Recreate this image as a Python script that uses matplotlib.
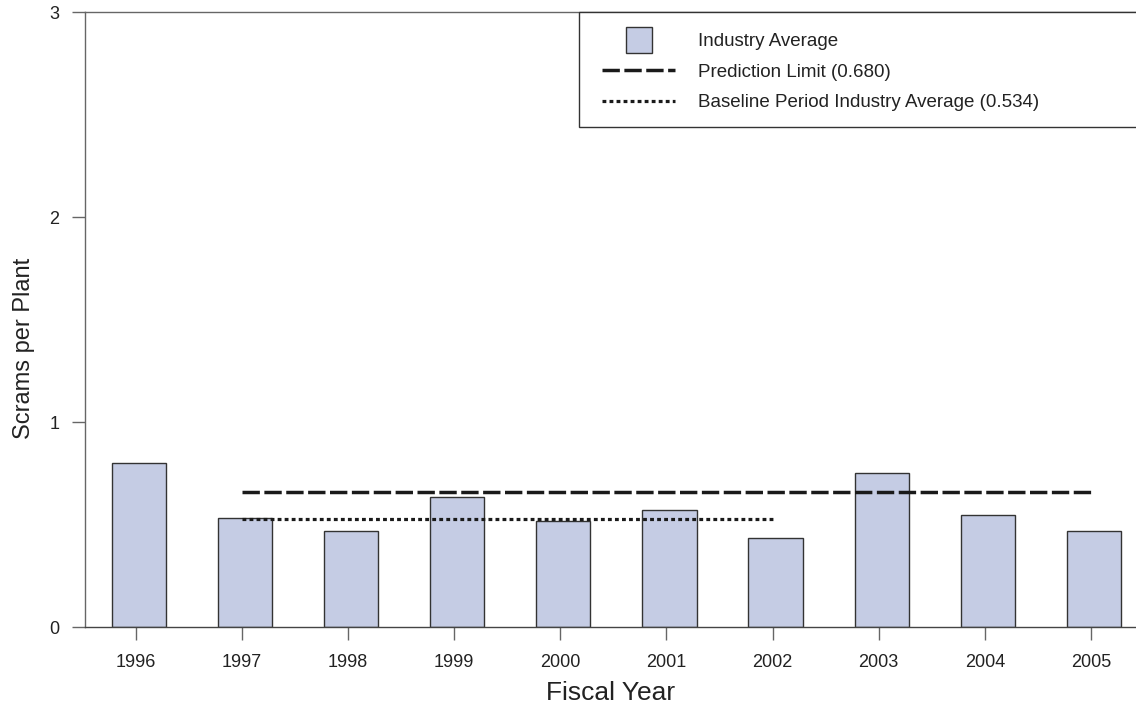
import matplotlib
matplotlib.use("Agg")
import matplotlib.pyplot as plt
from matplotlib.lines import Line2D
from matplotlib.patches import Rectangle

plt.rcParams['font.family'] = ['Liberation Sans', 'DejaVu Sans']

years = ['1996', '1997', '1998', '1999', '2000', '2001', '2002', '2003', '2004', '2005']
scrams = [0.80, 0.535, 0.47, 0.635, 0.52, 0.57, 0.435, 0.755, 0.55, 0.47]
prediction_limit = 0.66
prediction_span = (1, 9)
baseline_avg = 0.53
baseline_span = (1, 6)
legend_labels = ['Industry Average', 'Prediction Limit (0.680)',
                 'Baseline Period Industry Average (0.534)']

W, H = 1136, 709
fig = plt.figure(figsize=(W / 100, H / 100), dpi=100)
ax = fig.add_axes([85 / W, 1 - 627.3 / H, (W - 85) / W, (627.3 - 12.3) / H])

bar_color = '#c5cce4'
edge_color = '#333333'
x = list(range(len(years)))
bar_offset = 0.028
ax.bar([i + bar_offset for i in x], scrams, width=0.51, color=bar_color,
       edgecolor=edge_color, linewidth=1.0, zorder=2)

dash_style = (0, (5.0, 1.3))
dot_style = (0, (1.2, 1.0))
ax.hlines(prediction_limit, prediction_span[0], prediction_span[1], colors='#1a1a1a',
          linewidth=2.5, linestyles=[dash_style], zorder=3)
ax.hlines(baseline_avg, baseline_span[0], baseline_span[1], colors='#1a1a1a',
          linewidth=2.3, linestyles=[dot_style], zorder=3)

ax.set_xlim(-0.48, 9.425)
ax.set_ylim(0, 3)
ax.set_xticks(x)
ax.set_xticklabels(years)
ax.set_yticks([0, 1, 2, 3])

spine_c = '#666666'
for s in ['left', 'top', 'bottom']:
    ax.spines[s].set_color(spine_c)
    ax.spines[s].set_linewidth(1.0)
ax.spines['right'].set_visible(False)
ax.spines['bottom'].set_color('#444444')

ax.tick_params(axis='both', direction='out', length=9.5, width=1.0, color=spine_c,
               labelsize=13, labelcolor='#222222')
ax.tick_params(axis='x', pad=10)
ax.tick_params(axis='y', pad=9)

ax.set_xlabel('Fiscal Year', fontsize=19, color='#222222', labelpad=7)
ax.set_ylabel('Scrams per Plant', fontsize=17, color='#222222')
ax.yaxis.set_label_coords((35 - 85) / (W - 85), (627.3 - 348) / 615)

# legend frame
x0 = (579 - 85) / (W - 85)
y0 = (627.3 - 127) / 615
ax.add_patch(Rectangle((x0, y0), 1.05 - x0, 1.0 - y0, transform=ax.transAxes,
                       facecolor='white', edgecolor='#333333', linewidth=1.0,
                       clip_on=False, zorder=4))

handles = [
    Line2D([], [], marker='s', linestyle='none', markersize=19, markerfacecolor=bar_color,
           markeredgecolor=edge_color, markeredgewidth=1.0),
    Line2D([], [], color='#1a1a1a', linewidth=2.5, linestyle=dash_style),
    Line2D([], [], color='#1a1a1a', linewidth=2.3, linestyle=dot_style),
]
leg = ax.legend(handles, legend_labels, loc='upper left',
                bbox_to_anchor=(602 / W, 1 - 33 / H), bbox_transform=fig.transFigure,
                frameon=False, fontsize=13.5, handlelength=3.9, handletextpad=1.2,
                labelspacing=0.72, borderpad=0, borderaxespad=0, numpoints=1)
leg.set_zorder(5)
for t in leg.get_texts():
    t.set_color('#222222')

fig.savefig('out.png', dpi=100)
